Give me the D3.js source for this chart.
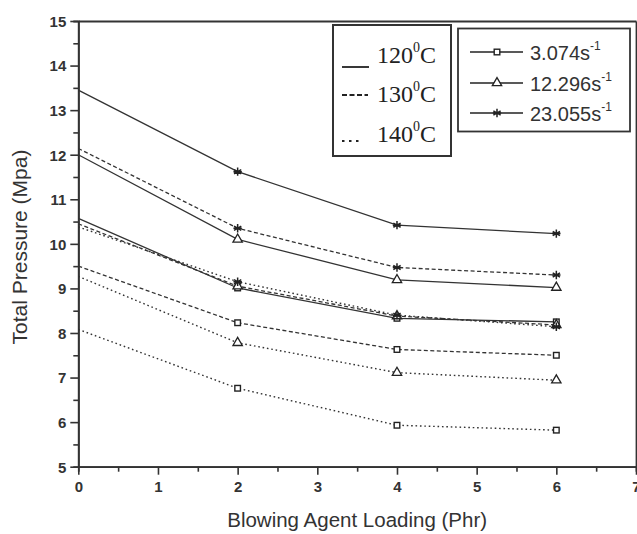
<!DOCTYPE html>
<html>
<head>
<meta charset="utf-8">
<title>Total Pressure vs Blowing Agent Loading</title>
<script src="https://cdn.jsdelivr.net/npm/d3@7"></script>
<style>
	body { margin: 0; background: #fff; }
	svg { display: block; }
	.tick text { font-family: "Liberation Sans", Arial, sans-serif; font-size: 15px; font-weight: bold; fill: #333; }
	.axis path, .axis line { stroke: #333; }
</style>
</head>
<body>
<div id="chart"></div>
<script>
	// blowing agent loading (Phr)
	var phr = [0, 2, 4, 6];
	var temps = ["120", "130", "140"];
	var rates = ["3.074", "12.296", "23.055"];
	// each temperature: rows = shear rate 3.074, 12.296, 23.055 s^-1
	var p120 = [
		[10.57, 9.01, 8.33, 8.25],
		[12.00, 10.10, 9.19, 9.02],
		[13.45, 11.62, 10.42, 10.23]
	];
	var p130 = [
		[9.50, 8.23, 7.63, 7.50],
		[10.45, 9.05, 8.38, 8.18],
		[12.14, 10.35, 9.47, 9.30]
	];
	var p140 = [
		[8.08, 6.76, 5.93, 5.82],
		[9.27, 7.78, 7.11, 6.94],
		[10.38, 9.15, 8.40, 8.14]
	];
	var xTicks = [0, 1, 2, 3, 4, 5, 6, 7];
	var yTicks = [5, 6, 7, 8, 9, 10, 11, 12, 13, 14, 15];

	var W = 637, H = 534;
	var svg = d3.select("#chart").append("svg").attr("width", W).attr("height", H);

	var x = d3.scaleLinear().domain([0, 7]).range([78.3, 636]);
	var y = d3.scaleLinear().domain([5, 15]).range([466.7, 21]);

	var dashes = ["none", "4,2.5", "1.6,2.8"];

	// minor ticks
	svg.append("g").attr("class", "axis")
		.attr("transform", "translate(" + x(0) + ",0)")
		.call(d3.axisLeft(y).tickValues(d3.range(5.5, 15, 1)).tickSize(5).tickFormat(""));
	svg.append("g").attr("class", "axis")
		.attr("transform", "translate(0," + y(5) + ")")
		.call(d3.axisBottom(x).tickValues(d3.range(0.5, 7, 1)).tickSize(5).tickFormat(""));

	// major axes
	var ya = svg.append("g").attr("class", "axis")
		.attr("transform", "translate(" + x(0) + ",0)")
		.call(d3.axisLeft(y).tickValues(yTicks).tickSize(8).tickSizeOuter(0).tickPadding(4).tickFormat(d3.format("d")));
	var xa = svg.append("g").attr("class", "axis")
		.attr("transform", "translate(0," + y(5) + ")")
		.call(d3.axisBottom(x).tickValues(xTicks).tickSize(8).tickSizeOuter(0).tickPadding(7).tickFormat(d3.format("d")));
	svg.append("g").attr("class", "axis")
		.attr("transform", "translate(0," + y(15) + ")")
		.call(d3.axisTop(x).tickValues([]).tickSizeOuter(0));
	svg.append("g").attr("class", "axis")
		.attr("transform", "translate(" + x(7) + ",0)")
		.call(d3.axisRight(y).tickValues([]).tickSizeOuter(0));
	svg.selectAll(".axis path").attr("stroke-width", 1.8);
	svg.selectAll(".axis line").attr("stroke-width", 1.6);
	ya.selectAll(".tick text").attr("dy", "0.36em");

	// axis titles
	svg.append("text")
		.attr("x", (x(0) + x(7)) / 2).attr("y", 527)
		.attr("text-anchor", "middle")
		.style("font-family", "Liberation Sans, Arial, sans-serif").style("font-size", "20.5px").attr("fill", "#333")
		.text("Blowing Agent Loading (Phr)");
	svg.append("text")
		.attr("transform", "translate(27," + 247 + ") rotate(-90)")
		.attr("text-anchor", "middle")
		.style("font-family", "Liberation Sans, Arial, sans-serif").style("font-size", "21px").attr("fill", "#333")
		.text("Total Pressure (Mpa)");

	// markers
	function starPath(r) {
		var p = "";
		[0, 60, 120].forEach(function (a) {
			var t = a * Math.PI / 180 + Math.PI / 2;
			var dx = r * Math.cos(t), dy = r * Math.sin(t);
			p += "M" + (-dx) + "," + (-dy) + "L" + dx + "," + dy;
		});
		return p + "M" + (-r) + ",0L" + r + ",0";
	}
	function marker(g, kind, cx, cy) {
		if (kind == 0) {
			g.append("rect").attr("x", cx - 2.8).attr("y", cy - 2.8).attr("width", 5.6).attr("height", 5.6)
				.attr("fill", "#fff").attr("stroke", "#222").attr("stroke-width", 1.4);
		} else if (kind == 1) {
			g.append("path").attr("transform", "translate(" + cx + "," + cy + ")")
				.attr("d", d3.symbol().type(d3.symbolTriangle).size(38)())
				.attr("fill", "#fff").attr("stroke", "#222").attr("stroke-width", 1.3);
		} else {
			g.append("path").attr("transform", "translate(" + cx + "," + cy + ")")
				.attr("d", starPath(4.2))
				.attr("fill", "none").attr("stroke", "#222").attr("stroke-width", 1.5);
		}
	}

	var line = d3.line().x(function (d, i) { return x(phr[i]); }).y(function (d) { return y(d); });
	var plot = svg.append("g");
	[p120, p130, p140].forEach(function (group, ti) {
		group.forEach(function (vals, ri) {
			plot.append("path").datum(vals)
				.attr("d", line)
				.attr("fill", "none")
				.attr("stroke", "#333")
				.attr("stroke-width", ti == 2 ? 1.4 : 1.3)
				.attr("stroke-dasharray", dashes[ti]);
			vals.forEach(function (v, i) {
				if (i > 0) marker(plot, ri, x(phr[i]), y(v));
			});
		});
	});

	// legend: temperature
	var lg1 = svg.append("g");
	lg1.append("rect").attr("x", 333).attr("y", 25).attr("width", 118).attr("height", 131)
		.attr("fill", "#fff").attr("stroke", "#333").attr("stroke-width", 2);
	var tY = [63, 102, 142];
	var sY = [67, 95, 141];
	var sW = [27, 26, 17];
	temps.forEach(function (t, i) {
		lg1.append("line").attr("x1", 342).attr("x2", 342 + sW[i]).attr("y1", sY[i]).attr("y2", sY[i])
			.attr("stroke", "#222").attr("stroke-width", i == 2 ? 2.2 : 1.8)
			.attr("stroke-dasharray", i == 1 ? "5,2.5" : (i == 2 ? "2.5,4.5" : "none"));
		var tx = lg1.append("text").attr("x", 377).attr("y", tY[i])
			.style("font-family", "Liberation Serif, Times New Roman, serif").style("font-size", "24px").attr("fill", "#222");
		tx.append("tspan").text(t);
		tx.append("tspan").attr("dy", -11).style("font-size", "14px").text("0");
		tx.append("tspan").attr("dy", 11).text("C");
	});

	// legend: shear rate
	var lg2 = svg.append("g");
	lg2.append("rect").attr("x", 458).attr("y", 28.5).attr("width", 172).attr("height", 103)
		.attr("fill", "#fff").attr("stroke", "#333").attr("stroke-width", 1.8);
	var rY = [52, 83, 113];
	rates.forEach(function (r, i) {
		lg2.append("line").attr("x1", 470).attr("x2", 523).attr("y1", rY[i]).attr("y2", rY[i])
			.attr("stroke", "#222").attr("stroke-width", 1.4);
		marker(lg2, i, 497, rY[i]);
		var tx = lg2.append("text").attr("x", 530).attr("y", rY[i] + 7.5)
			.style("font-family", "Liberation Sans, Arial, sans-serif").style("font-size", "20px").attr("fill", "#333");
		tx.append("tspan").text(r + "s");
		tx.append("tspan").attr("dy", -10).style("font-size", "12px").text("-1");
	});
</script>
</body>
</html>
